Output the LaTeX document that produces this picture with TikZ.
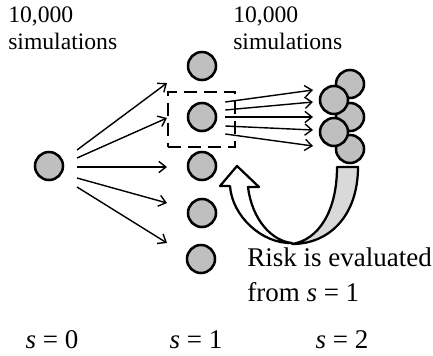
\documentclass[tikz,border=0pt]{standalone}
\usepackage{fontspec}
\setmainfont{Liberation Serif}
\usetikzlibrary{arrows.meta,positioning,calc}
\definecolor{ballgray}{gray}{0.75}
\definecolor{tailgray}{gray}{0.85}

\begin{document}
\begin{tikzpicture}[x=0.025cm, y=-0.025cm, >={Straight Barb[length=5pt,width=8pt]},
  ball/.style={circle, draw, line width=1.8pt, fill=ballgray, minimum size=0.7cm, inner sep=0pt},
  arr/.style={->, line width=1pt},
  selbox/.style={draw, line width=1.8pt, dash pattern=on 0.33cm off 0.17cm,
    minimum width=1.675cm, minimum height=1.375cm, inner sep=0pt},
  ribbon/.style={draw, line width=1.6pt, line join=round},
  small/.style={font=\fontsize{16.8}{19}\selectfont, align=left, inner sep=0pt, anchor=north west},
  big/.style={font=\fontsize{19.2}{25.5}\selectfont, align=left, inner sep=0pt}]

  \useasboundingbox (0,0) rectangle (433,355);

  % Define nodes
  \node[ball] (L) at (49,166) {};
  \node[ball] (M1) at (202,66) {};
  \node[ball] (M2) at (202,117) {};
  \node[ball] (M3) at (202,166) {};
  \node[ball] (M4) at (202,213) {};
  \node[ball] (M5) at (201,259) {};
  \node[selbox] (sel) at (201.5,119.5) {};
  % cluster at s = 2, back column first
  \node[ball] (R1) at (350,84) {};
  \node[ball] (R3) at (350,117) {};
  \node[ball] (R5) at (350,149) {};
  \node[ball] (R2) at (334,100) {};
  \node[ball] (R4) at (334,132) {};

  % Draw arrows
  \draw[arr] ([shift={(28,-16)}]L.center) to ([shift={(-35,17)}]M1.center);
  \draw[arr] ([shift={(28,-8)}]L.center) to ([shift={(-35,1)}]M2.center);
  \draw[arr] ([shift={(28,1)}]L.center) to ([shift={(-35,1)}]M3.center);
  \draw[arr] ([shift={(28,12)}]L.center) to ([shift={(-35,-10)}]M4.center);
  \draw[arr] ([shift={(28,21)}]L.center) to ([shift={(-34,-16)}]M5.center);

  \draw[arr] ([shift={(8,-15)}]M2.east) to ([shift={(-37,6)}]R1.center);
  \draw[arr] ([shift={(8,-7)}]M2.east) to ([shift={(-21,2)}]R2.center);
  \draw[arr] ([shift={(8,0)}]M2.east) to ([shift={(-37,0)}]R3.center);
  \draw[arr] ([shift={(8,9)}]M2.east) to ([shift={(-21,-2)}]R4.center);
  \draw[arr] ([shift={(8,17)}]M2.east) to ([shift={(-37,-3)}]R5.center);

  % Curved arrow back to s = 1
  \draw[ribbon, fill=tailgray] (337,167) -- (358,167)
    .. controls (358,215) and (330,244) .. (292,244)
    .. controls (318,240) and (337,212) .. (337,167) -- cycle;
  \draw[ribbon, fill=white] (230,186) -- (220,186) -- (237,166) -- (259,187) -- (248,187)
    .. controls (252,220) and (272,241) .. (292,243)
    .. controls (262,244) and (232,216) .. (230,186) -- cycle;

  % Add labels
  \node[small] (n0) at (8,7) {10,000\\simulations};
  \node[small] (n2) at (233,7) {10,000\\simulations};
  \node[big, anchor=north west] (risk) at (247,247) {Risk is evaluated\\from \textit{s} = 1};
  \node[big, anchor=base] (s0) at (52,348) {\textit{s} = 0};
  \node[big, anchor=base] (s1) at (196,348) {\textit{s} = 1};
  \node[big, anchor=base] (s2) at (342,348) {\textit{s} = 2};
\end{tikzpicture}
\end{document}
